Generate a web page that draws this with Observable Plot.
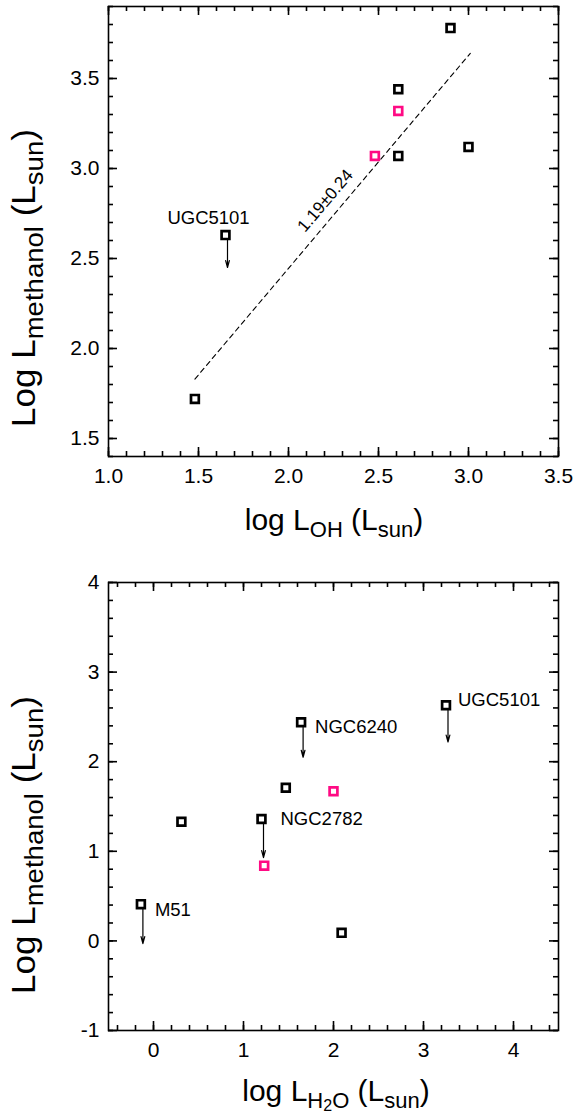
<!DOCTYPE html>
<html>
<head>
<meta charset="utf-8">
<script src="https://cdn.jsdelivr.net/npm/d3@7"></script>
<script src="https://cdn.jsdelivr.net/npm/@observablehq/plot@0.6"></script>
<style>
  html, body { margin: 0; padding: 0; background: #fff; }
  #chart svg { display: block; }
</style>
</head>
<body>
<div id="chart"></div>
<script>
// ---------------- Top panel: log L_OH vs log L_methanol ----------------
const topBlackX = [1.48, 2.61, 2.61, 2.90, 3.00];
const topBlackY = [1.72, 3.07, 3.44, 3.78, 3.12];
const topPinkX  = [2.48, 2.61];
const topPinkY  = [3.07, 3.32];
const topLimitName = ["UGC5101"];
const topLimitX    = [1.65];
const topLimitY    = [2.63];
const topLimitTip  = [2.45];
const fitX = [1.48, 3.01];
const fitY = [1.83, 3.64];
const fitText = "1.19±0.24";
const fitTextX = 2.26;
const fitTextY = 2.76;
const topXTicks = [1.0, 1.5, 2.0, 2.5, 3.0, 3.5];
const topYTicks = [1.5, 2.0, 2.5, 3.0, 3.5];

// ---------------- Bottom panel: log L_H2O vs log L_methanol ----------------
const botBlackX = [0.31, 1.47, 2.09];
const botBlackY = [1.33, 1.71, 0.09];
const botPinkX  = [1.23, 2.00];
const botPinkY  = [0.84, 1.67];
const botLimitName = ["M51", "NGC2782", "NGC6240", "UGC5101"];
const botLimitX    = [-0.14, 1.20, 1.64, 3.25];
const botLimitY    = [0.41, 1.36, 2.44, 2.63];
const botLimitTip  = [-0.03, 0.93, 2.05, 2.22];
const botXTicks = [0, 1, 2, 3, 4];
const botYTicks = [-1, 0, 1, 2, 3, 4];

// ---------------- styling ----------------
const FONT = "'Liberation Sans', Arial, Helvetica, sans-serif";
const PINK = "#ff0a84";
const W = 579, ML = 108, MR = 21;
const nameOffset = {
  top: {UGC5101: {dx: -17, dy: -17, anchor: "middle"}},
  bot: {
    M51: {dx: 14, dy: 6, anchor: "start"},
    NGC2782: {dx: 19, dy: 0, anchor: "start"},
    NGC6240: {dx: 14, dy: 5, anchor: "start"},
    UGC5101: {dx: 12, dy: -5, anchor: "start"}
  }
};

const pts = (xs, ys) => xs.map((x, i) => ({x, y: ys[i]}));
const lims = (names, xs, ys, tips) => names.map((n, i) => ({name: n, x: xs[i], y: ys[i], tip: tips[i]}));

function frameTicks(ih, iw, xMaj, xMin, yMaj, yMin) {
  const sw = 1.6, LM = 9, Lm = 5;
  const id = d => d;
  const st = {stroke: "black", strokeWidth: sw};
  return [
    Plot.tickX(xMaj, {x: id, insetTop: ih - LM, ...st}),
    Plot.tickX(xMaj, {x: id, insetBottom: ih - LM, ...st}),
    Plot.tickX(xMin, {x: id, insetTop: ih - Lm, ...st}),
    Plot.tickX(xMin, {x: id, insetBottom: ih - Lm, ...st}),
    Plot.tickY(yMaj, {y: id, insetRight: iw - LM, ...st}),
    Plot.tickY(yMaj, {y: id, insetLeft: iw - LM, ...st}),
    Plot.tickY(yMin, {y: id, insetRight: iw - Lm, ...st}),
    Plot.tickY(yMin, {y: id, insetLeft: iw - Lm, ...st})
  ];
}

function markers(black, pink, limits, offsets) {
  const out = [];
  out.push(Plot.arrow(limits, {
    x1: "x", y1: "y", x2: "x", y2: "tip", dx: 2,
    stroke: "black", strokeWidth: 1.2, headLength: 9, headAngle: 30, insetStart: 5
  }));
  for (const l of limits) {
    const o = offsets[l.name];
    out.push(Plot.text([l], {
      x: "x", y: "y", text: "name", dx: o.dx, dy: o.dy, textAnchor: o.anchor,
      fontSize: 18.5, fill: "black"
    }));
  }
  const dotStyle = {symbol: "square", r: 4.4, strokeWidth: 2.7, fill: "white"};
  out.push(Plot.dot(limits, {x: "x", y: "y", stroke: "black", ...dotStyle}));
  out.push(Plot.dot(black, {x: "x", y: "y", stroke: "black", ...dotStyle}));
  out.push(Plot.dot(pink, {x: "x", y: "y", stroke: PINK, ...dotStyle}));
  return out;
}

function panel({height, mt, mb, xDomain, yDomain, xMaj, xMin, yMaj, yMin, xFmt, yFmt, extra}) {
  const ih = height - mt - mb, iw = W - ML - MR;
  return Plot.plot({
    width: W, height,
    marginLeft: ML, marginRight: MR, marginTop: mt, marginBottom: mb,
    style: {fontFamily: FONT, fontSize: "21px", color: "black", background: "white", overflow: "visible"},
    x: {domain: xDomain},
    y: {domain: yDomain},
    marks: [
      ...frameTicks(ih, iw, xMaj, xMin, yMaj, yMin),
      Plot.axisX(xMaj, {anchor: "bottom", tickSize: 0, tickPadding: 12, tickFormat: xFmt, label: null, fontSize: 21}),
      Plot.axisY(yMaj, {anchor: "left", tickSize: 0, tickPadding: 9, tickFormat: yFmt, label: null, fontSize: 21}),
      ...extra,
      Plot.frame({stroke: "black", strokeWidth: 1.6})
    ]
  });
}

function addText(svg, transform, parts, size) {
  const t = d3.select(svg).append("text")
    .attr("transform", transform)
    .attr("text-anchor", "middle")
    .attr("font-family", FONT)
    .attr("font-size", size)
    .attr("fill", "black");
  for (const p of parts) {
    const s = t.append("tspan").text(p.t);
    if (p.size) s.attr("font-size", p.size);
    if (p.dy) s.attr("dy", p.dy);
  }
  return t;
}

const yLabelParts = [
  {t: "Log L"},
  {t: "methanol", size: 26, dy: 8},
  {t: " (L", dy: -8},
  {t: "sun", size: 26, dy: 8},
  {t: ")", dy: -8}
];

// ---------- top ----------
const topFmt = d3.format(".1f");
const topChart = panel({
  height: 540, mt: 6, mb: 84,
  xDomain: [1.0, 3.5], yDomain: [1.4, 3.9],
  xMaj: topXTicks, xMin: d3.ticks(1.0, 3.5, 25),
  yMaj: topYTicks, yMin: d3.ticks(1.4, 3.9, 25),
  xFmt: topFmt, yFmt: topFmt,
  extra: [
    Plot.line(pts(fitX, fitY), {x: "x", y: "y", stroke: "black", strokeWidth: 1.1, strokeDasharray: "5,4"}),
    Plot.text([{x: fitTextX, y: fitTextY, t: fitText}], {x: "x", y: "y", text: "t", dx: -10, dy: -11, rotate: -49.7, fontSize: 17, fill: "black"}),
    ...markers(pts(topBlackX, topBlackY), pts(topPinkX, topPinkY),
               lims(topLimitName, topLimitX, topLimitY, topLimitTip), nameOffset.top)
  ]
});
addText(topChart, "translate(35,278) rotate(-90) scale(1.06,1)", yLabelParts, 33);
addText(topChart, "translate(334,530)", [
  {t: "log L"},
  {t: "OH", size: 22, dy: 7},
  {t: " (L", dy: -7},
  {t: "sun", size: 22, dy: 7},
  {t: ")", dy: -7}
], 30);

// ---------- bottom ----------
const botFmt = d => String(d);
const botChart = panel({
  height: 575, mt: 42, mb: 85,
  xDomain: [-0.5, 4.5], yDomain: [-1, 4],
  xMaj: botXTicks, xMin: d3.ticks(-0.5, 4.5, 25),
  yMaj: botYTicks, yMin: d3.ticks(-1, 4, 25),
  xFmt: botFmt, yFmt: botFmt,
  extra: markers(pts(botBlackX, botBlackY), pts(botPinkX, botPinkY),
                 lims(botLimitName, botLimitX, botLimitY, botLimitTip), nameOffset.bot)
});
addText(botChart, "translate(35,305) rotate(-90) scale(1.06,1)", yLabelParts, 33);
addText(botChart, "translate(336,561)", [
  {t: "log L"},
  {t: "H", size: 22, dy: 7},
  {t: "2", size: 16, dy: 3},
  {t: "O", size: 22, dy: -3},
  {t: " (L", dy: -7},
  {t: "sun", size: 22, dy: 7},
  {t: ")", dy: -7}
], 30);

document.getElementById("chart").append(topChart, botChart);
const nLines = topChart.querySelectorAll("line").length;
if (nLines < 50) throw new Error("tick lines drawn: " + nLines);
</script>
</body>
</html>
